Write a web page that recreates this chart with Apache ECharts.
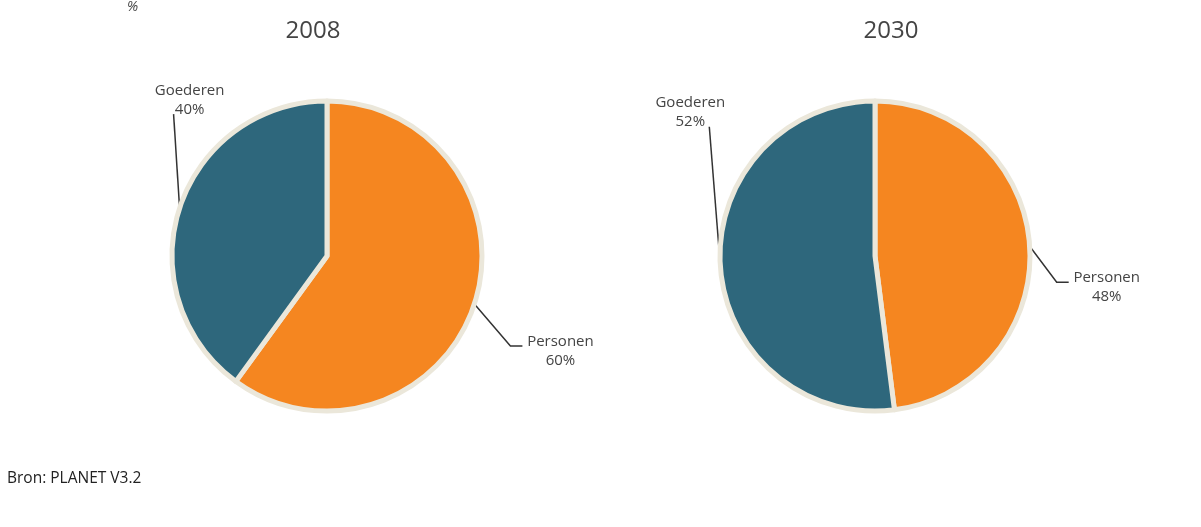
<!DOCTYPE html>
<html>
<head>
<meta charset="utf-8">
<script src="https://cdn.jsdelivr.net/npm/echarts@6/dist/echarts.min.js"></script>
<style>
html,body{margin:0;padding:0;background:#fff;}
#chart{width:1201px;height:527px;}
</style>
</head>
<body>
<div id="chart"></div>
<script>
// ---- data ----
const years = ['2008', '2030'];
const categories = ['Personen', 'Goederen'];
const values2008 = [60, 40];
const values2030 = [48, 52];
const unitLabel = '%';
const sourceText = 'Bron: PLANET V3.2';

const FONT = '"Open Sans", "DejaVu Sans", sans-serif';
const colors = ['#f58620', '#2e677c'];
const pieCenters = [[327, 256], [875, 256]];

// label placement relative to the slice anchor: [seriesIndex][dataIndex]
const labelCfg = [
  [
    { lab: [86, 47], align: 'center', va: 'middle', pts: [[36, 42], [48, 42]] },
    { lab: [10, -89], align: 'center', va: 'bottom', pts: [[-6, -94], [-6, -94]] }
  ],
  [
    { lab: [77, 41], align: 'center', va: 'middle', pts: [[27, 36], [39, 36]] },
    { lab: [-30, -134], align: 'center', va: 'bottom', pts: [[-11, -139], [-11, -139]] }
  ]
];

function makeLayout(seriesIdx) {
  return function (params) {
    const cfg = labelCfg[seriesIdx][params.dataIndex];
    const a = params.labelLinePoints[0];
    return {
      x: a[0] + cfg.lab[0],
      y: a[1] + cfg.lab[1],
      align: cfg.align,
      verticalAlign: cfg.va,
      labelLinePoints: [
        [a[0], a[1]],
        [a[0] + cfg.pts[0][0], a[1] + cfg.pts[0][1]],
        [a[0] + cfg.pts[1][0], a[1] + cfg.pts[1][1]]
      ]
    };
  };
}

function makeSeries(idx, values) {
  return {
    type: 'pie',
    center: pieCenters[idx],
    radius: 155,
    startAngle: 90,
    clockwise: true,
    animation: false,
    silent: true,
    data: categories.map((c, i) => ({ name: c, value: values[i] })),
    itemStyle: { borderColor: '#ebe7da', borderWidth: 5 },
    label: {
      show: true,
      formatter: '{b}\n{d}%',
      fontFamily: FONT,
      fontSize: 15,
      lineHeight: 19,
      color: '#444',
      align: 'center'
    },
    labelLine: { show: true, length: 30, length2: 10, lineStyle: { color: '#333', width: 1.5 } },
    labelLayout: makeLayout(idx),
    emphasis: { disabled: true }
  };
}

const chart = echarts.init(document.getElementById('chart'));
chart.setOption({
  backgroundColor: '#ffffff',
  color: colors,
  title: [
    { text: years[0], left: 308, top: 14, textAlign: 'center',
      textStyle: { fontFamily: FONT, fontSize: 24, fontWeight: 'normal', color: '#444' } },
    { text: years[1], left: 886, top: 14, textAlign: 'center',
      textStyle: { fontFamily: FONT, fontSize: 24, fontWeight: 'normal', color: '#444' } },
    { text: unitLabel, left: 122, top: -5,
      textStyle: { fontFamily: FONT, fontSize: 14, fontStyle: 'italic', fontWeight: 'normal', color: '#444' } },
    { text: sourceText, left: 2, top: 466,
      textStyle: { fontFamily: FONT, fontSize: 15.5, fontWeight: 'normal', color: '#222' } }
  ],
  series: [makeSeries(0, values2008), makeSeries(1, values2030)]
});
</script>
</body>
</html>
